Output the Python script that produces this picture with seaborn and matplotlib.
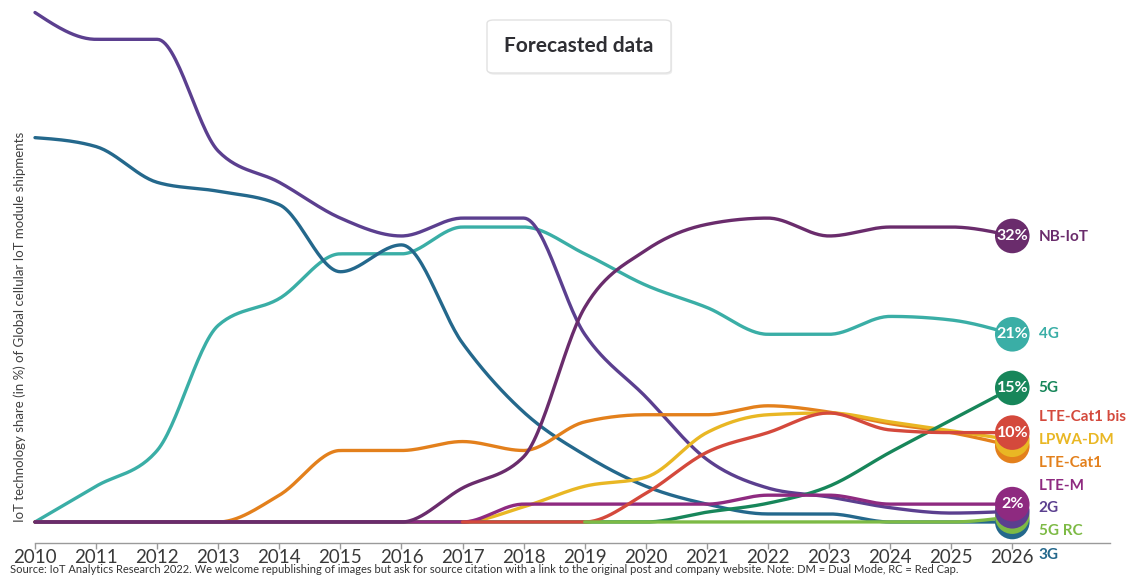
import numpy as np
import pandas as pd
import matplotlib
matplotlib.use("Agg")
import matplotlib.pyplot as plt
from matplotlib import font_manager
from matplotlib.patches import FancyBboxPatch
from matplotlib.transforms import Bbox, TransformedBbox
import seaborn as sns

# ---- data: share (%) of global cellular IoT module shipments ----
years = list(range(2010, 2027))
nan = np.nan

share_2g = [57, 54, 54, 41.5, 38, 34, 32, 34, 34, 21, 14, 7, 3.8, 2.8, 1.6, 1.0, 1.2]
share_3g = [43, 42, 38, 37, 35.5, 28, 31, 20, 12.3, 7.5, 4, 2, 0.9, 0.9, 0, 0, 0]
share_4g = [0, 4, 8, 22, 25, 30, 30, 33, 33, 30, 26.5, 24, 21, 21, 23, 22.6, 21]
share_5g = [0, 0, 0, 0, 0, 0, 0, 0, 0, 0, 0, 1.1, 2.1, 4, 7.8, 11.4, 15]
share_5g_rc = [nan] * 9 + [0, 0, 0, 0, 0, 0, 0, 0.6]
share_nbiot = [0, 0, 0, 0, 0, 0, 0, 3.8, 7.3, 24, 30.4, 33.3, 34, 32, 33, 33, 32]
share_ltem = [0, 0, 0, 0, 0, 0, 0, 0, 2, 2, 2, 2, 3, 3, 2, 2, 2]
share_lte_cat1 = [0, 0, 0, 0, 3, 8, 8, 9, 8, 11.2, 12, 12, 13, 12.3, 11, 10, 8.5]
share_lpwa_dm = [0, 0, 0, 0, 0, 0, 0, 0, 1.7, 4, 5, 10, 12, 12.2, 11.2, 10.2, 9.2]
share_cat1_bis = [nan] * 7 + [0, 0, 0, 3.2, 7.8, 10, 12.2, 10.3, 10, 10]

series = {
    "NB-IoT": share_nbiot,
    "4G": share_4g,
    "5G": share_5g,
    "LTE-Cat1 bis": share_cat1_bis,
    "LPWA-DM": share_lpwa_dm,
    "LTE-Cat1": share_lte_cat1,
    "LTE-M": share_ltem,
    "2G": share_2g,
    "5G RC": share_5g_rc,
    "3G": share_3g,
}
labelled = ["NB-IoT", "4G", "5G", "LTE-Cat1 bis", "LTE-M"]

colors = {
    "NB-IoT": "#6a2c6c",
    "4G": "#3aaea6",
    "5G": "#17865a",
    "LTE-Cat1 bis": "#d4493c",
    "LPWA-DM": "#e9b724",
    "LTE-Cat1": "#e3801c",
    "LTE-M": "#8e2a80",
    "2G": "#5b3f8f",
    "5G RC": "#7dba45",
    "3G": "#24688c",
}

# ---- layout ----
line_order = ["4G", "3G", "2G", "LTE-Cat1", "LPWA-DM", "5G", "LTE-M",
              "NB-IoT", "LTE-Cat1 bis", "5G RC"]
circle_order = ["3G", "5G RC", "2G", "LTE-M", "LTE-Cat1", "LPWA-DM",
                "LTE-Cat1 bis", "5G", "4G", "NB-IoT"]
label_y = {
    "NB-IoT": 31.9, "4G": 21.0, "5G": 15.0, "LTE-Cat1 bis": 11.7,
    "LPWA-DM": 9.2, "LTE-Cat1": 6.6, "LTE-M": 4.0, "2G": 1.6,
    "5G RC": -1.0, "3G": -3.7,
}


def monotone_curve(x, y, n=30):
    """Monotone cubic (d3 curveMonotoneX style) path through the points."""
    x = np.asarray(x, float)
    y = np.asarray(y, float)
    ok = ~np.isnan(y)
    x, y = x[ok], y[ok]
    h = np.diff(x)
    s = np.diff(y) / h
    m = np.zeros_like(y)
    for i in range(1, len(y) - 1):
        s0, s1 = s[i - 1], s[i]
        p = (s0 * h[i] + s1 * h[i - 1]) / (h[i - 1] + h[i])
        sg = (-1 if s0 < 0 else 1) + (-1 if s1 < 0 else 1)
        m[i] = sg * min(abs(s0), abs(s1), 0.5 * abs(p))
    m[0] = (3 * s[0] - m[1]) / 2
    m[-1] = (3 * s[-1] - m[-2]) / 2
    xs, ys = [], []
    for i in range(len(y) - 1):
        t = np.linspace(0, 1, n, endpoint=(i == len(y) - 2))
        h00 = 2 * t**3 - 3 * t**2 + 1
        h10 = t**3 - 2 * t**2 + t
        h01 = -2 * t**3 + 3 * t**2
        h11 = t**3 - t**2
        xs.append(x[i] + t * h[i])
        ys.append(h00 * y[i] + h10 * h[i] * m[i] + h01 * y[i + 1] + h11 * h[i] * m[i + 1])
    return np.concatenate(xs), np.concatenate(ys)


frames = []
for name, vals in series.items():
    cx, cy = monotone_curve(years, vals)
    frames.append(pd.DataFrame({"year": cx, "share": cy, "tech": name}))
curves = pd.concat(frames, ignore_index=True)

sns.set_theme(style="white")
names = {f.name for f in font_manager.fontManager.ttflist}
base_font = "Lato" if "Lato" in names else "DejaVu Sans"
narrow_font = "Liberation Sans Narrow" if "Liberation Sans Narrow" in names else base_font
plt.rcParams["font.family"] = [base_font, "DejaVu Sans"]

fig = plt.figure(figsize=(11.3, 5.77), dpi=100)
fig.patch.set_facecolor("white")
ax = fig.add_axes([35 / 1130, 34 / 577, 1075 / 1130, 543 / 577])
ax.set_facecolor("white")

sns.lineplot(data=curves, x="year", y="share", hue="tech", hue_order=line_order,
             palette=colors, estimator=None, sort=False, linewidth=2.4,
             legend=False, ax=ax)
for ln in ax.get_lines():
    ln.set_clip_on(False)
    ln.set_solid_capstyle("round")

# end-of-series bubbles and labels
end_year = years[-1]
for z, name in enumerate(circle_order):
    v = series[name][-1]
    ax.scatter([end_year], [v], s=620, color=colors[name], edgecolors="none",
               zorder=10 + z, clip_on=False)
    if name in labelled:
        ax.text(end_year, v, f"{v:.0f}%", ha="center", va="center",
                color="white", fontsize=11.5, fontweight="bold",
                zorder=30, clip_on=False)
for name, ly in label_y.items():
    ax.text(end_year + 0.43, ly, name, ha="left", va="center",
            color=colors[name], fontsize=11, fontweight="bold", clip_on=False)

ax.set_xlim(2010, 2027.6)
ax.set_ylim(-2.35, 58.4)
ax.set_xticks(years)
ax.set_xticklabels([str(y) for y in years], fontfamily=narrow_font,
                   fontsize=13.5, color="#3a3a3a")
ax.set_yticks([])
ax.set_xlabel("")
ax.set_ylabel("")
for side in ["left", "top", "right"]:
    ax.spines[side].set_visible(False)
ax.spines["bottom"].set_color("#9a9a9a")
ax.spines["bottom"].set_linewidth(1.0)
ax.tick_params(axis="x", direction="out", length=4, width=1, color="#9a9a9a",
               pad=0, bottom=True)

# axis title
fig.text(20 / 1130, 1 - 327 / 577,
         "IoT technology share (in %) of Global cellular IoT module shipments",
         rotation=90, ha="center", va="center", fontsize=9.5, color="#404040")

# "Forecasted data" badge
bx, by, bw, bh = 487 / 1130, 1 - 73 / 577, 184 / 1130, 53 / 577
shadow = FancyBboxPatch((bx + 0.001, by - 0.003), bw, bh,
                        boxstyle="round,pad=0,rounding_size=0.006",
                        transform=fig.transFigure, facecolor="#ececec",
                        edgecolor="none", zorder=1)
badge = FancyBboxPatch((bx, by), bw, bh, boxstyle="round,pad=0,rounding_size=0.006",
                       transform=fig.transFigure, facecolor="white",
                       edgecolor="#e2e2e2", linewidth=1, zorder=2)
fig.patches.extend([shadow, badge])
fig.text(bx + bw / 2, by + bh / 2, "Forecasted data", ha="center", va="center",
         fontsize=15, fontweight="bold", color="#2e2e33", zorder=3)

# source note
fig.text(10 / 1130, 2 / 577,
         "Source: IoT Analytics Research 2022. We welcome republishing of images but ask "
         "for source citation with a link to the original post and company website. "
         "Note: DM = Dual Mode, RC = Red Cap.",
         ha="left", va="bottom", fontsize=8, color="#333333", fontfamily=narrow_font)

# chart title running off the top edge; only the descenders stay visible
title = fig.text(604 / 1130, 1 + 12 / 577, "IoT connectivity technology",
                 ha="right", va="baseline", fontsize=40, fontweight="bold",
                 color="#222222")
title.set_clip_box(TransformedBbox(Bbox([[0.0, 1 - 13 / 577], [1.0, 1.0]]),
                                   fig.transFigure))
title.set_clip_on(True)

fig.savefig("out.png", dpi=100, facecolor="white")
